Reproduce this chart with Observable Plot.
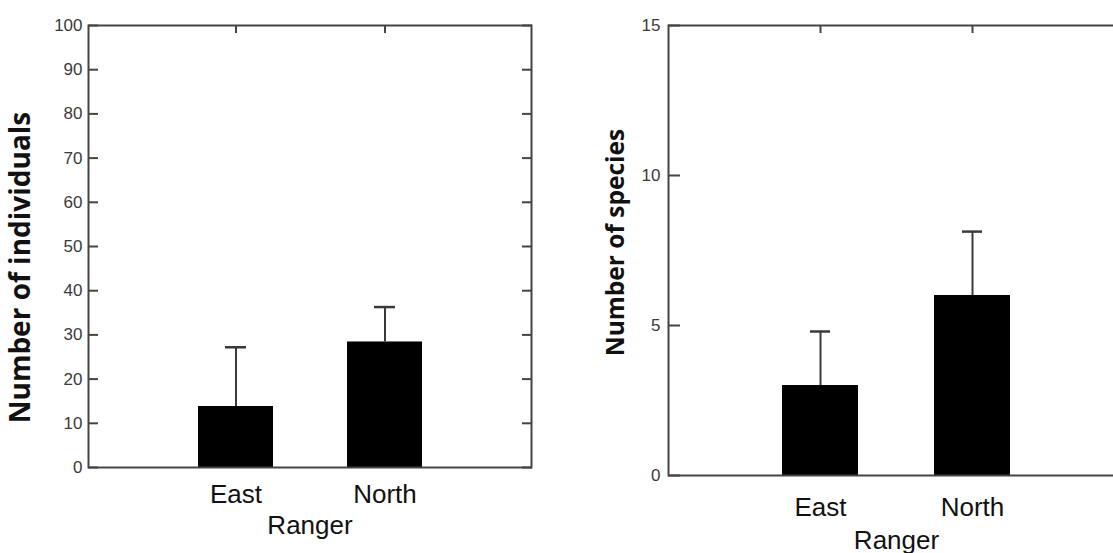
<!DOCTYPE html>
<html>
<head>
<meta charset="utf-8">
<script src="https://cdn.jsdelivr.net/npm/d3@7"></script>
<script src="https://cdn.jsdelivr.net/npm/@observablehq/plot@0.6"></script>
<style>
  html, body { margin: 0; padding: 0; background: #fff; overflow: hidden; width: 1113px; height: 553px; position: relative; }
  #left { position: absolute; left: 0; top: 0; width: 560px; }
  #right { position: absolute; left: 560px; top: 0; width: 600px; }
  svg { overflow: visible; max-width: none !important; }
</style>
</head>
<body>
<div id="left"></div>
<div id="right"></div>
<script>
// ---- data ----
const categories = ["East", "North"];
const individualsMean = [13.8, 28.4];
const individualsUpper = [27.2, 36.3];
const speciesMean = [3.0, 6.0];
const speciesUpper = [4.8, 8.13];
const individualsTicks = [0, 10, 20, 30, 40, 50, 60, 70, 80, 90, 100];
const speciesTicks = [0, 5, 10, 15];
const xTitle = "Ranger";
const leftTitle = "Number of individuals";
const rightTitle = "Number of species";

function rows(means, uppers) {
  return categories.map((c, i) => ({cat: c, mean: means[i], upper: uppers[i]}));
}

function panel({data, ticks, yMax, yTitle, width, height, margins, xPad, labelPad, titleDy, yTitleSize, yTitleSpacing, yTitleDx, yTitleDy, capInset, yTickLen, topTickLen}) {
  const tickFont = {fontSize: 17, fill: "#3a3a3a", fontFamily: "Liberation Sans, Arial, sans-serif"};
  const labelFont = {fontSize: 26, fill: "#111", fontFamily: "Liberation Sans, Arial, sans-serif"};
  return Plot.plot({
    width, height,
    marginLeft: margins[0], marginRight: margins[1], marginTop: margins[2], marginBottom: margins[3],
    style: {background: "white", fontFamily: "Liberation Sans, Arial, sans-serif", maxWidth: "none", overflow: "visible"},
    x: {type: "band", domain: categories, paddingInner: 0.5, paddingOuter: xPad},
    y: {domain: [0, yMax]},
    marks: [
      Plot.barY(data, {x: "cat", y: "mean", fill: "#000"}),
      Plot.ruleX(data, {x: "cat", y1: "mean", y2: "upper", stroke: "#3a3a3a", strokeWidth: 2}),
      Plot.tickY(data, {x: "cat", y: "upper", stroke: "#3a3a3a", strokeWidth: 2.5, insetLeft: capInset, insetRight: capInset}),
      Plot.frame({stroke: "#444", strokeWidth: 2}),
      Plot.axisY({anchor: "left", ticks, tickSize: 0, tickPadding: labelPad, label: null, ...tickFont}),
      Plot.axisY({anchor: "left", ticks, tickSize: yTickLen, dx: yTickLen, tickFormat: () => "", label: null, stroke: "#444", strokeWidth: 2}),
      Plot.axisY({anchor: "right", ticks, tickSize: yTickLen, dx: -yTickLen, tickFormat: () => "", label: null, stroke: "#444", strokeWidth: 2}),
      Plot.axisX({anchor: "top", tickSize: topTickLen, dy: topTickLen, tickFormat: () => "", label: null, stroke: "#444", strokeWidth: 2}),
      Plot.axisX({anchor: "bottom", tickSize: 0, tickPadding: titleDy[0], label: null, ...labelFont}),
      Plot.text([xTitle], {frameAnchor: "bottom", text: d => d, lineAnchor: "bottom", dy: titleDy[1], ...labelFont}),
      Plot.text([yTitle], {frameAnchor: "left", text: d => d, rotate: -90, textAnchor: "middle", lineAnchor: "middle", dx: yTitleDx, dy: yTitleDy, fontSize: yTitleSize, fontWeight: "bold", fill: "#111", fontFamily: "Open Sans, Noto Sans, sans-serif", style: `letter-spacing:${yTitleSpacing}px`})
    ]
  });
}

const left = panel({
  data: rows(individualsMean, individualsUpper),
  ticks: individualsTicks, yMax: 100, yTitle: leftTitle,
  width: 560, height: 553, margins: [88, 29, 25, 86],
  xPad: 0.73, labelPad: 6, titleDy: [17, 66], yTitleSize: 28, yTitleSpacing: 2.9,
  yTitleDx: -67, yTitleDy: 21, capInset: 27, yTickLen: 10, topTickLen: 7
});
document.getElementById("left").appendChild(left);

const right = panel({
  data: rows(speciesMean, speciesUpper),
  ticks: speciesTicks, yMax: 15, yTitle: rightTitle,
  width: 580, height: 553, margins: [108, 16, 25, 78],
  xPad: 0.75, labelPad: 8, titleDy: [22, 73], yTitleSize: 24.5, yTitleSpacing: 0.3,
  yTitleDx: -52, yTitleDy: -8, capInset: 28, yTickLen: 12, topTickLen: 7
});
document.getElementById("right").appendChild(right);
</script>
</body>
</html>
